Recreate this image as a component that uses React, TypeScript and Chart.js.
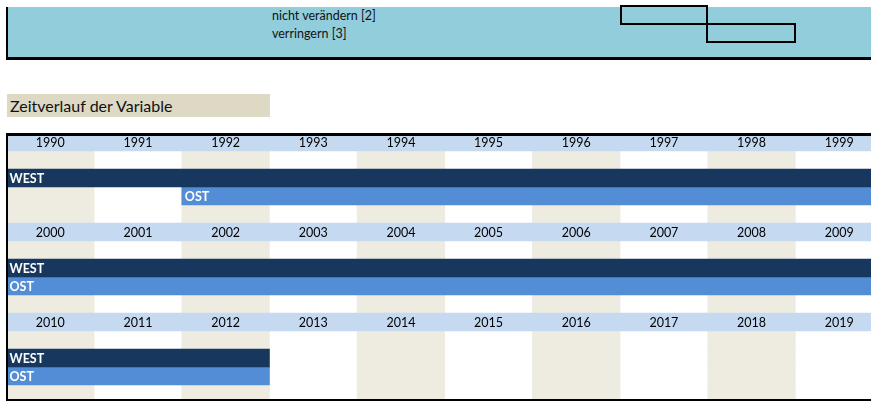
import React, { useEffect, useRef } from "react";
import { Chart, registerables } from "chart.js";

Chart.register(...registerables);

// ---- data ----
const yearsRow1 = ["1990", "1991", "1992", "1993", "1994", "1995", "1996", "1997", "1998", "1999"];
const yearsRow2 = ["2000", "2001", "2002", "2003", "2004", "2005", "2006", "2007", "2008", "2009"];
const yearsRow3 = ["2010", "2011", "2012", "2013", "2014", "2015", "2016", "2017", "2018", "2019"];
const yearBlocks = [yearsRow1, yearsRow2, yearsRow3];
const regionNames = ["WEST", "OST"];
const westPeriod = [1990, 2012];
const ostPeriod = [1992, 2012];
const regionPeriods = [westPeriod, ostPeriod];
const legendLabels = ["nicht verändern [2]", "verringern [3]"];
const chartTitle = "Zeitverlauf der Variable";
const stripeColumns = [0, 2, 4, 6, 8];

// ---- styles ----
const C_HEADER = "#C5D9F1";
const C_STRIPE = "#EEECE1";
const C_WEST = "#17375E";
const C_OST = "#538DD5";
const C_TOP = "#92CDDC";
const C_TITLE = "#DDD9C4";
const regionColors = [C_WEST, C_OST];
const FONT = "Lato, 'Open Sans', sans-serif";

const rowLabels: string[] = yearBlocks.flatMap((yrs, b) => [
  `${yrs[0]}–${yrs[9]}`,
  `leer ${b}a`,
  `WEST ${yrs[0]}`,
  `OST ${yrs[0]}`,
  `leer ${b}b`,
]);

const barCommon = {
  barPercentage: 1,
  categoryPercentage: 1,
  grouped: false,
  borderWidth: 0,
};

const textPlugin = {
  id: "cellText",
  afterDatasetsDraw(chart: any) {
    const { ctx } = chart;
    const x = chart.scales.x;
    const y = chart.scales.y;
    ctx.save();
    ctx.textBaseline = "middle";
    ctx.font = `12.5px ${FONT}`;
    ctx.fillStyle = "#000";
    ctx.textAlign = "center";
    yearBlocks.forEach((yrs, b) => {
      const py = y.getPixelForValue(b * 5) + 0.5;
      yrs.forEach((t, c) => ctx.fillText(t, x.getPixelForValue(c + 0.5), py));
    });
    ctx.font = `bold 12.5px ${FONT}`;
    ctx.fillStyle = "#fff";
    ctx.textAlign = "left";
    chart.data.datasets.forEach((ds: any) => {
      if (!ds.regionLabel) return;
      ds.data.forEach((v: any, i: number) => {
        if (!v) return;
        ctx.fillText(ds.label, x.getPixelForValue(v[0]) + 3, y.getPixelForValue(i) + 0.5);
      });
    });
    ctx.restore();
  },
};

export default function App() {
  const ref = useRef<HTMLCanvasElement>(null);

  useEffect(() => {
    if (!ref.current) return;
    const stripeSets = stripeColumns.map((c) => ({
      ...barCommon,
      label: `Spalte ${c}`,
      data: rowLabels.map(() => [c, c + 1]),
      backgroundColor: C_STRIPE,
      order: 10,
    }));
    const headerSet = {
      ...barCommon,
      label: "Jahre",
      data: rowLabels.map((_, i) => (i % 5 === 0 ? [0, 10] : null)),
      backgroundColor: C_HEADER,
      order: 5,
    };
    const regionSets = regionNames.map((name, r) => ({
      ...barCommon,
      label: name,
      regionLabel: true,
      data: rowLabels.map((_, i) => {
        if (i % 5 !== 2 + r) return null;
        const b = Math.floor(i / 5);
        const d0 = Number(yearBlocks[b][0]);
        const p = regionPeriods[r];
        const s = Math.max(p[0], d0) - d0;
        const e = Math.min(p[1] + 1, d0 + 10) - d0;
        return s < e ? [s, e] : null;
      }),
      backgroundColor: regionColors[r],
      order: 1,
    }));

    const chart = new Chart(ref.current, {
      type: "bar",
      data: {
        labels: rowLabels,
        datasets: [...regionSets, headerSet, ...stripeSets] as any,
      },
      options: {
        indexAxis: "y",
        animation: false,
        responsive: false,
        maintainAspectRatio: false,
        layout: { padding: { left: 6.5, right: 0, top: 0, bottom: 0 } },
        scales: {
          x: { type: "linear", min: 0, max: 10, display: false },
          y: { type: "category", offset: true, display: false },
        },
        plugins: { legend: { display: false }, tooltip: { enabled: false } },
      },
      plugins: [textPlugin],
    });
    return () => chart.destroy();
  }, []);

  return (
    <div
      style={{
        position: "absolute",
        left: 0,
        top: 0,
        width: 871,
        height: 401,
        overflow: "hidden",
        background: "#fff",
        fontFamily: FONT,
      }}
    >
      <div
        style={{
          position: "absolute",
          left: 6,
          top: 7,
          width: 900,
          height: 53,
          background: C_TOP,
          borderLeft: "2px solid #000",
          borderBottom: "3px solid #000",
          boxSizing: "border-box",
        }}
      />
      {legendLabels.map((t, i) => (
        <div
          key={t}
          style={{
            position: "absolute",
            left: 272,
            top: 7 + i * 17.5,
            height: 17.5,
            lineHeight: "17.5px",
            fontSize: 12.5,
            color: "#111",
            whiteSpace: "nowrap",
          }}
        >
          {t}
        </div>
      ))}
      <div
        style={{
          position: "absolute",
          left: 620,
          top: 5,
          width: 88,
          height: 20,
          border: "2px solid #000",
          boxSizing: "border-box",
        }}
      />
      <div
        style={{
          position: "absolute",
          left: 706,
          top: 23,
          width: 90,
          height: 20,
          border: "2px solid #000",
          boxSizing: "border-box",
        }}
      />
      <div
        style={{
          position: "absolute",
          left: 7,
          top: 94,
          width: 263,
          height: 23,
          background: C_TITLE,
          fontSize: 16,
          lineHeight: "23px",
          paddingLeft: 3,
          boxSizing: "border-box",
          color: "#111",
          whiteSpace: "nowrap",
        }}
      >
        {chartTitle}
      </div>
      <canvas
        ref={ref}
        width={883}
        height={270}
        style={{ position: "absolute", left: 0, top: 133, width: 883, height: 270 }}
      />
      <div
        style={{
          position: "absolute",
          left: 6,
          top: 133,
          width: 900,
          height: 268,
          borderTop: "3px solid #000",
          borderLeft: "2px solid #000",
          borderBottom: "2px solid #000",
          boxSizing: "border-box",
          pointerEvents: "none",
        }}
      />
    </div>
  );
}
